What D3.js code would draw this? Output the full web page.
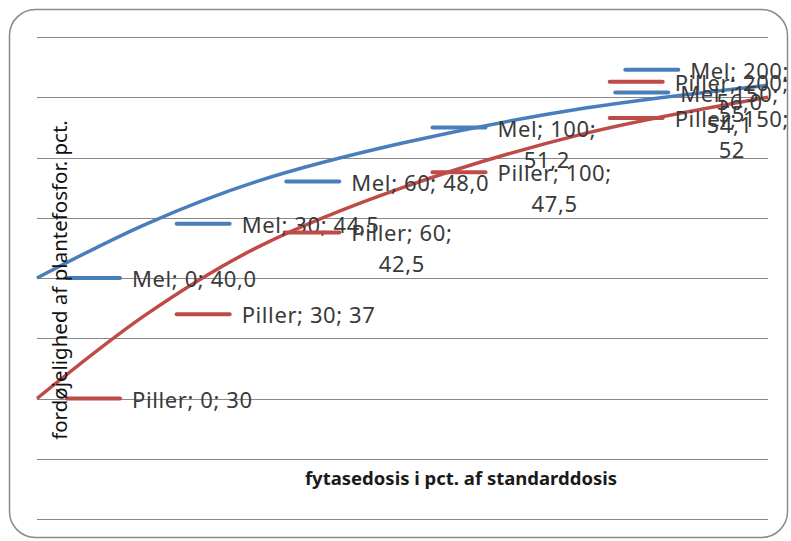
<!DOCTYPE html>
<html>
<head>
<meta charset="utf-8">
<title>Fytase</title>
<style>
  body, html { margin: 0; padding: 0; background: #fff; }
  svg { display: block; }
</style>
</head>
<body>
<svg id="svg" width="791" height="541"></svg>
<script src="https://cdn.jsdelivr.net/npm/d3@7"></script>
<script>
  // data
  const doses = [0, 30, 60, 100, 150, 200]
  const melValues = [40.0, 44.5, 48.0, 51.2, 54.1, 56.0]
  const pillerValues = [30, 37, 42.5, 47.5, 52, 55]
  const yTicks = [20, 25, 30, 35, 40, 45, 50, 55, 60]
  const seriesNames = ['Mel', 'Piller']
  const xTitle = 'fytasedosis i pct. af standarddosis'
  const yTitle = 'fordøjelighed af plantefosfor. pct.'

  const width = 791
  const height = 541
  const plot = { left: 37, right: 768, top: 37, bottom: 519 }
  const colors = { Mel: '#4a7ebb', Piller: '#be4b48' }
  const fmt = {
    Mel: v => d3.format('.1f')(v).replace('.', ','),
    Piller: v => String(v).replace('.', ',')
  }

  const svg = d3.select('#svg')

  // chart border
  svg.append('rect')
    .attr('x', 9.5).attr('y', 9.5)
    .attr('width', 778).attr('height', 528)
    .attr('rx', 26).attr('ry', 26)
    .attr('fill', '#fff')
    .attr('stroke', '#8a8a8a')
    .attr('stroke-width', 1.5)

  const xScale = d3.scaleLinear().domain([0, 200]).range([plot.left, plot.right])
  const yScale = d3.scaleLinear().domain([20, 60]).range([plot.bottom, plot.top])

  // gridlines
  svg.append('g')
    .selectAll('line')
    .data(yTicks)
    .join('line')
    .attr('x1', plot.left).attr('x2', plot.right)
    .attr('y1', d => Math.round(yScale(d)) + 0.5)
    .attr('y2', d => Math.round(yScale(d)) + 0.5)
    .attr('stroke', '#888')
    .attr('stroke-width', 1)

  const series = [
    { name: seriesNames[0], values: melValues },
    { name: seriesNames[1], values: pillerValues }
  ]

  const linegen = d3.line()
    .x(d => xScale(d.x))
    .y(d => yScale(d.y))
    .curve(d3.curveCatmullRom.alpha(0.5))

  series.forEach(s => {
    const pts = doses.map((x, i) => ({ x, y: s.values[i] }))
    svg.append('path')
      .attr('d', linegen(pts))
      .attr('fill', 'none')
      .attr('stroke', colors[s.name])
      .attr('stroke-width', 3.5)
  })

  // data labels with legend keys
  const labelFont = '"Noto Sans", sans-serif'
  const labelSize = 22
  const spacing = 0.6
  const keyW = 53
  const keyGap = 12
  const offset = 30
  const lineGap = 31
  const wrapLimit = 144
  const rightLimit = 789

  function styleLabel(sel) {
    return sel
      .style('font-family', labelFont)
      .style('font-size', labelSize + 'px')
      .style('letter-spacing', spacing + 'px')
  }

  const labels = svg.append('g')
  series.forEach(s => {
    doses.forEach((x, i) => {
      const v = s.values[i]
      const px = xScale(x)
      const py = yScale(v)
      const full = `${s.name}; ${x}; ${fmt[s.name](v)}`
      const g = labels.append('g')

      const probe = styleLabel(g.append('text')).text(full)
      const fullW = probe.node().getComputedTextLength()
      probe.remove()

      let lines = [full]
      if (fullW > wrapLimit) lines = [`${s.name}; ${x};`, fmt[s.name](v)]

      const texts = lines.map(t => styleLabel(g.append('text'))
        .attr('fill', '#3a3a3a')
        .attr('text-anchor', 'middle')
        .attr('dominant-baseline', 'central')
        .text(t))
      const blockW = d3.max(texts, t => t.node().getComputedTextLength())

      let left = px + offset
      const total = keyW + keyGap + blockW
      if (left + total > rightLimit) left = rightLimit - total

      const firstY = py - (lines.length - 1) * lineGap / 2
      const textX = left + keyW + keyGap + blockW / 2
      texts.forEach((t, k) => t.attr('x', textX).attr('y', firstY + k * lineGap))

      g.insert('line', 'text')
        .attr('x1', left).attr('x2', left + keyW)
        .attr('y1', firstY).attr('y2', firstY)
        .attr('stroke', colors[s.name])
        .attr('stroke-width', 4)
        .attr('stroke-linecap', 'round')
    })
  })

  // axis titles
  svg.append('text')
    .attr('x', 461).attr('y', 477)
    .attr('text-anchor', 'middle')
    .attr('dominant-baseline', 'central')
    .style('font-family', '"Noto Sans", sans-serif')
    .style('font-size', '18.5px')
    .style('font-weight', 'bold')
    .attr('fill', '#1a1a1a')
    .text(xTitle)

  svg.append('text')
    .attr('transform', 'translate(67, 280) rotate(-90)')
    .attr('text-anchor', 'middle')
    .style('font-family', '"Noto Sans", sans-serif')
    .style('font-size', '20.5px')
    .attr('fill', '#111')
    .text(yTitle)
</script>
</body>
</html>
